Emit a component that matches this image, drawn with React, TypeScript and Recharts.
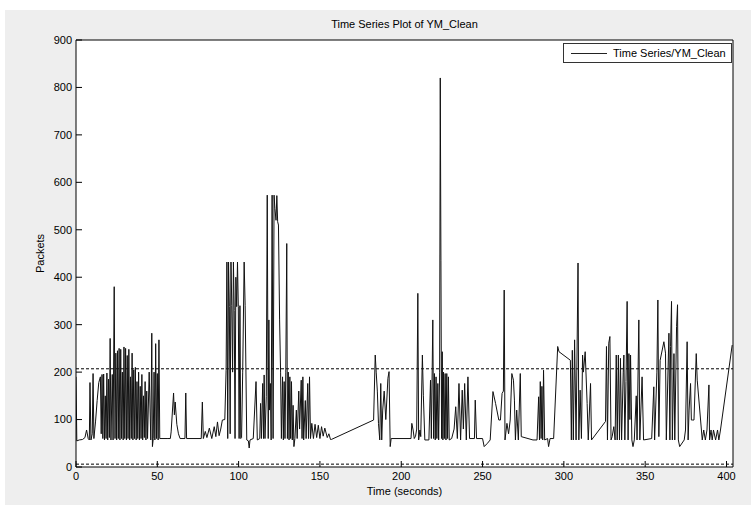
import React from 'react';
import { LineChart, Line, XAxis, YAxis, ReferenceLine, CartesianGrid, Legend } from 'recharts';

// [time in seconds, packets] in pieces
const part1: [number, number][] = [
  [0, 190], [0.5, 55], [2, 57], [4, 58], [5.5, 62], [6.5, 78], [7.5, 60], [8.2, 57], [8.6, 178], [9.2, 57],
  [10, 70], [10.5, 197], [11, 60], [12, 95], [13, 140], [14, 178], [15, 190], [15.5, 70], [16, 195], [16.5, 60],
  [17, 196], [17.5, 57], [18, 150], [18.5, 60], [19, 198], [19.5, 57], [20, 185], [20.5, 62], [21, 271], [21.5, 57],
  [22.3, 195], [22.8, 57], [23.5, 380], [24, 60], [24.5, 240], [25, 57], [25.5, 245], [26, 60], [26.5, 250], [27, 57],
  [27.5, 248], [28, 60], [28.5, 200], [29, 57], [29.5, 253], [30, 60], [30.5, 250], [31, 57], [31.5, 235], [32, 60],
  [32.5, 248], [33, 57], [33.5, 190], [34, 60], [34.5, 240], [35, 57], [35.5, 205], [36, 60], [36.5, 210], [37, 57],
  [37.5, 180], [38, 60], [38.5, 200], [39, 57], [39.5, 170], [40, 60], [40.5, 195], [41, 57], [41.5, 150], [42, 62],
  [42.5, 180], [43, 57], [43.5, 160], [44, 60], [45, 200], [46, 57], [46.6, 282], [47, 43], [47.5, 60], [48, 200],
  [48.5, 57], [49, 260], [49.5, 60], [50, 197], [50.5, 57], [51, 268], [51.5, 60],
];

const part2: [number, number][] = [
  [56, 60], [58, 60], [58.5, 74], [60, 156], [60.5, 110], [61, 137], [62, 90], [63, 70], [64, 60], [67, 60],
  [67.5, 156], [68, 60], [77, 60], [77.7, 137], [78.3, 60], [79.5, 75], [80.5, 62], [82, 82], [83.5, 60], [85, 85],
  [86, 64], [87, 95], [88, 66], [89, 80], [90, 99], [91.5, 100], [92.3, 204], [92.8, 432], [93.3, 60], [93.8, 432],
  [94.3, 338], [94.8, 70], [95.3, 432], [95.8, 340], [96.3, 200], [96.8, 432], [97.3, 330], [97.8, 60], [98.3, 400], [98.8, 338],
  [99.3, 432], [99.8, 338], [100.3, 60], [100.8, 340], [101.3, 60], [101.8, 62], [102.5, 200], [103.4, 432], [104, 341], [105, 57],
];

const part3: [number, number][] = [
  [106, 55], [106.5, 40], [107, 57], [109, 60], [110.7, 180], [111.5, 57], [113, 60], [113.5, 134], [114, 60], [114.8, 176],
  [115.3, 60], [115.7, 194], [116.2, 60], [117, 148], [117.6, 573], [118.2, 60], [118.6, 310], [119, 120], [119.5, 176], [120, 57],
  [120.6, 573], [121.2, 60], [121.8, 573], [122.3, 545], [123, 520], [123.5, 572], [124, 517], [124.5, 510], [125.2, 310], [125.8, 200],
  [126.3, 60], [127, 190], [127.5, 57], [128, 180], [128.5, 60], [129, 200], [129.6, 471], [130, 60], [130.5, 200], [131, 57],
  [131.5, 190], [132, 60], [132.5, 180], [133, 57], [133.5, 130], [134, 43], [134.6, 60], [135.5, 120], [136, 60], [137, 160],
  [137.5, 80], [138.5, 183], [139, 60], [139.5, 190], [140, 57], [141, 140], [141.5, 60], [142.5, 176], [143, 60], [143.6, 190],
  [144.2, 60], [145, 92], [146, 60], [147, 90], [148, 62], [149, 88], [150, 60], [151, 85], [152, 65], [153, 82],
  [154.5, 62], [155.5, 70], [156.5, 58],
];

const part4: [number, number][] = [
  [157, 58], [183, 99], [184, 236], [184.6, 200], [185.3, 160], [186, 92], [186.8, 57], [187.4, 176], [188, 57], [188.6, 120],
  [189.5, 160], [190.5, 100], [191.8, 187], [192.5, 201], [193.2, 43], [193.8, 60], [206, 60], [206.5, 92], [207.3, 78], [208, 60],
  [208.8, 65], [209.5, 80], [210.2, 366], [210.7, 57], [211.5, 78], [212, 64], [213, 236], [213.6, 150], [214.5, 57],
];

const part5: [number, number][] = [
  [217, 57], [218, 183], [218.5, 60], [219.4, 310], [219.9, 60], [220.4, 197], [220.9, 57], [221.4, 190], [221.9, 60], [222.5, 176],
  [223, 57], [223.6, 200], [224, 820], [224.4, 436], [224.8, 60], [225.2, 243], [225.6, 57], [226, 200], [226.5, 60], [227, 197],
  [227.5, 57], [228, 197], [228.5, 60], [229, 190], [229.5, 57], [231, 60], [232.5, 80], [233.5, 127], [234.5, 60], [235.5, 176],
  [236.5, 57], [237.5, 162], [238.2, 80], [239, 176], [240, 57], [241, 190], [242, 60], [245, 60], [245.5, 141], [246.3, 60],
  [250, 60], [251, 43], [253, 50], [254.7, 57], [256.4, 159], [258, 134], [260, 99], [261, 99],
];

const part6: [number, number][] = [
  [262, 155], [262.8, 160], [263.3, 373], [263.8, 57], [265, 92], [266, 70], [267, 99], [268, 197], [269, 183], [269.6, 141],
  [270.2, 57], [271, 120], [272, 57], [273.2, 197], [273.8, 64], [281, 57], [283.5, 57], [284.5, 148], [285, 57], [285.5, 180],
  [286, 60], [286.5, 170], [287, 57], [287.5, 204], [288.2, 57], [290, 60], [290.6, 43], [291.5, 60], [293.7, 60], [296.2, 254],
  [297, 243], [304, 225], [304.6, 57], [305.2, 246], [305.8, 57], [306.6, 268], [307.5, 57], [308.7, 430], [309.2, 57], [310, 162],
  [310.8, 60], [311.5, 236],
];

const part7: [number, number][] = [
  [312, 200], [313.1, 243], [314.3, 134], [315, 57], [316.4, 176], [317, 57], [325.6, 96], [326.2, 254], [326.8, 57], [327.6, 261],
  [328.3, 275], [329, 57], [329.7, 64], [330.7, 85], [331.5, 57], [332.2, 236], [332.8, 57], [333.5, 236], [334.2, 57], [334.8, 229],
  [335.5, 57], [336.5, 200], [336.9, 236], [337.5, 57], [338.2, 180], [338.9, 349], [339.5, 57], [340, 239], [340.6, 100], [341, 236],
  [341.8, 57], [342.5, 43], [343.3, 57], [344.5, 150], [345, 57], [346.1, 310], [346.7, 57], [348.1, 190], [349, 57], [354, 60],
  [355.3, 169], [355.8, 57], [357.2, 200], [357.8, 352], [358.4, 64], [359.2, 225], [361.5, 264], [362.5, 240], [363, 57], [364.6, 282],
];

const part8: [number, number][] = [
  [365.2, 57], [365.6, 254], [366.2, 349], [366.7, 57], [367.7, 239], [368.2, 57], [369.3, 296], [369.9, 342], [370.4, 57], [371.2, 43],
  [374, 57], [374.8, 78], [375.8, 264], [376.4, 57], [377, 120], [377.9, 176], [378.4, 99], [379, 99], [380, 99], [381.4, 239],
  [382, 183], [385.1, 57], [386, 78], [387, 57], [388, 78], [389.2, 173], [389.6, 57], [390.5, 78], [391.2, 57], [392, 78],
  [393.3, 57], [394.5, 78], [395.3, 57], [396.3, 78], [403.5, 257],
];

const timeTicks = [0, 50, 100, 150, 200, 250, 300, 350, 400];
const packetTicks = [0, 100, 200, 300, 400, 500, 600, 700, 800, 900];
const upperLimit = 207;
const lowerLimit = 6;
const title = 'Time Series Plot of YM_Clean';
const seriesName = 'Time Series/YM_Clean';

const data = [...part1, ...part2, ...part3, ...part4, ...part5, ...part6, ...part7, ...part8].map(([t, v]) => ({ t, v }));

const FONT = "'Liberation Sans', Arial, sans-serif";
const tickStyle = { fill: '#000', fontSize: 11, fontFamily: FONT };
const labelStyle = { fill: '#000', fontSize: 11, fontFamily: FONT, textAnchor: 'middle' as const };

const LegendBox = () => (
  <div
    style={{
      background: '#fff',
      border: '1px solid #333',
      height: 20,
      boxSizing: 'border-box',
      display: 'flex',
      alignItems: 'center',
      fontFamily: FONT,
      fontSize: 11,
      color: '#000',
      whiteSpace: 'nowrap',
    }}
  >
    <span style={{ display: 'inline-block', width: 36, borderTop: '1px solid #222', margin: '0 6px 0 7px' }} />
    <span>{seriesName}</span>
  </div>
);

export default function App() {
  return (
    <div style={{ position: 'absolute', left: 0, top: 0, width: 751, height: 505, background: '#fff', overflow: 'hidden' }}>
      <div style={{ position: 'absolute', left: 5, top: 10, right: 0, bottom: 0, background: '#eeeeee' }} />
      <div
        style={{
          position: 'absolute',
          left: 76,
          width: 657,
          top: 18,
          textAlign: 'center',
          fontFamily: FONT,
          fontSize: 11,
          color: '#000',
        }}
      >
        {title}
      </div>
      <div style={{ position: 'absolute', left: 0, top: 0 }}>
        {/* plot box: left 76, right 733, top 40, bottom 467 */}
        <LineChart width={751} height={505} data={data} margin={{ top: 39, right: 17, bottom: 8, left: 36 }}>
          <CartesianGrid xAxisId="b" yAxisId="l" horizontal={false} vertical={false} fill="#ffffff" />
          <XAxis
            xAxisId="b"
            dataKey="t"
            type="number"
            domain={[0, 404]}
            ticks={timeTicks}
            interval={0}
            height={30}
            tickSize={-6}
            tickMargin={11}
            stroke="#000"
            tick={tickStyle}
            allowDataOverflow
            label={{ value: 'Time (seconds)', position: 'bottom', offset: -10, style: labelStyle }}
          />
          <XAxis
            xAxisId="t"
            orientation="top"
            type="number"
            domain={[0, 404]}
            ticks={timeTicks}
            interval={0}
            height={1}
            tickSize={-6}
            tick={false}
            stroke="#000"
            allowDataOverflow
          />
          <YAxis
            yAxisId="l"
            type="number"
            domain={[0, 900]}
            ticks={packetTicks}
            interval={0}
            width={40}
            tickSize={-6}
            tickMargin={10}
            stroke="#000"
            tick={tickStyle}
            allowDataOverflow
            label={{ value: 'Packets', angle: -90, position: 'left', offset: -4, style: labelStyle }}
          />
          <YAxis
            yAxisId="r"
            orientation="right"
            type="number"
            domain={[0, 900]}
            ticks={packetTicks}
            interval={0}
            width={1}
            tickSize={-6}
            tick={false}
            stroke="#000"
            allowDataOverflow
          />
          <ReferenceLine xAxisId="b" yAxisId="l" y={upperLimit} stroke="#000" strokeDasharray="3 2" />
          <ReferenceLine xAxisId="b" yAxisId="l" y={lowerLimit} stroke="#000" strokeDasharray="3 2" />
          <Line
            xAxisId="b"
            yAxisId="l"
            type="linear"
            dataKey="v"
            name={seriesName}
            stroke="#111"
            strokeWidth={1}
            dot={false}
            activeDot={false}
            isAnimationActive={false}
          />
          <Legend
            layout="vertical"
            align="center"
            verticalAlign="middle"
            content={() => <LegendBox />}
            wrapperStyle={{ left: 563, top: 43, width: 169, height: 20 }}
          />
        </LineChart>
      </div>
    </div>
  );
}
